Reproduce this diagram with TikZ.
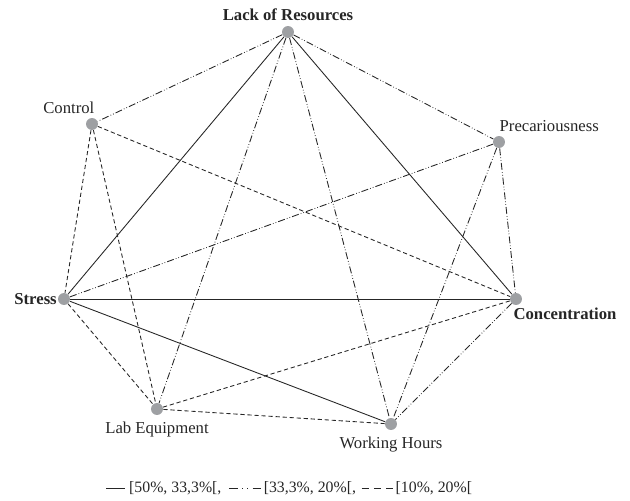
\documentclass[tikz,border=0pt]{standalone}
\usepackage{fontspec}
\setmainfont{Liberation Serif}
\usepackage{tikz}
\usetikzlibrary{positioning}
\definecolor{vgray}{RGB}{158,160,163}
\tikzset{
  vtx/.style={circle, fill=vgray, inner sep=0pt, minimum size=6.8pt},
  lbl/.style={font=\fontsize{9.5}{11}\selectfont, text=black!85},
  lblb/.style={lbl, font=\fontsize{9.5}{11}\selectfont\bfseries},
  legtxt/.style={lbl, font=\fontsize{9}{11}\selectfont, inner sep=0pt},
  strongl/.style={black!85, line width=0.5pt},
  midl/.style={black!85, line width=0.5pt, dash pattern=on 4pt off 1.2pt on 0.4pt off 1.2pt on 0.4pt off 1.2pt},
  weakl/.style={black!85, line width=0.5pt, dash pattern=on 2.4pt off 1.6pt},
}
\begin{document}
\begin{tikzpicture}[x=0.02cm,y=-0.02cm]
  \useasboundingbox (0,0) rectangle (630,501);
  % vertices
  \node[vtx, label={[lblb, label distance=-0.5pt]90:Lack of Resources}] (res) at (288,32) {};
  \node[vtx, label={[lbl, anchor=south east, xshift=7.4pt]north west:Control}] (ctl) at (92,124) {};
  \node[vtx, label={[lbl, anchor=south west, xshift=-5.7pt]north east:Precariousness}] (pre) at (499,142) {};
  \node[vtx, label={[lblb, label distance=-3pt]180:Stress}] (str) at (64,299) {};
  \node[vtx, label={[lblb, anchor=north west, xshift=-4.9pt, yshift=2pt]south:Concentration}] (con) at (516,299) {};
  \node[vtx, label={[lbl]270:Lab Equipment}] (lab) at (157,409) {};
  \node[vtx, label={[lbl]270:Working Hours}] (wrk) at (391,424) {};
  % links
  \draw[strongl] (res) -- (str);
  \draw[strongl] (res) -- (con);
  \draw[strongl] (str) -- (con);
  \draw[strongl] (str) -- (wrk);
  \draw[midl] (res) -- (ctl);
  \draw[midl] (res) -- (pre);
  \draw[midl] (res) -- (lab);
  \draw[midl] (res) -- (wrk);
  \draw[midl] (pre) -- (str);
  \draw[midl] (pre) -- (wrk);
  \draw[midl] (pre) -- (con);
  \draw[midl] (con) -- (wrk);
  \draw[weakl] (ctl) -- (con);
  \draw[weakl] (ctl) -- (str);
  \draw[weakl] (ctl) -- (lab);
  \draw[weakl] (str) -- (lab);
  \draw[weakl] (lab) -- (con);
  \draw[weakl] (lab) -- (wrk);
  % legend
  \coordinate (k1) at (106,488);
  \coordinate[right=11pt of k1] (k2);
  \node[legtxt, right=2pt of k2] (t1) {[50\%, 33,3\%[,};
  \coordinate[right=4pt of t1] (k3);
  \coordinate[right=18.5pt of k3] (k4);
  \node[legtxt, right=1.2pt of k4] (t2) {[33,3\%, 20\%[,};
  \coordinate[right=3pt of t2] (k5);
  \coordinate[right=18pt of k5] (k6);
  \node[legtxt, right=1.2pt of k6] (t3) {[10\%, 20\%[};
  \draw[strongl] (k1) -- (k2);
  \draw[black!85, line width=0.5pt, dash pattern=on 5pt off 2.5pt on 0.5pt off 2.5pt on 0.5pt off 2.5pt] (k3) -- (k4);
  \draw[black!85, line width=0.5pt, dash pattern=on 4pt off 3pt] (k5) -- (k6);
\end{tikzpicture}
\end{document}
